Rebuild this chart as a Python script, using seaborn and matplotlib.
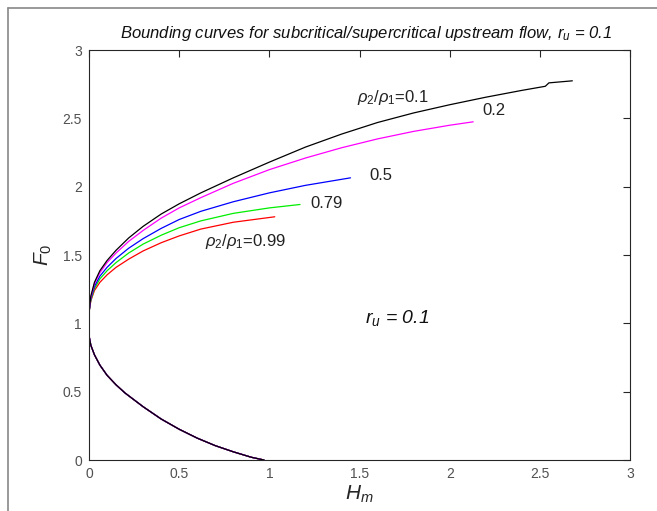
import matplotlib
matplotlib.use('Agg')
import matplotlib.pyplot as plt
import seaborn as sns
import pandas as pd
from matplotlib.lines import Line2D

# density ratios rho2/rho1 and their line colours
ratios = ['0.99', '0.79', '0.5', '0.2', '0.1']
colors = ['#ff0000', '#00ee00', '#0000ff', '#ff00ff', '#000000']

# upper (supercritical) branches
h_099 = [0, 0.01, 0.03, 0.06, 0.1, 0.15, 0.22, 0.3, 0.4, 0.5, 0.62, 0.8, 1.03]
f_099 = [1.08, 1.165, 1.24, 1.30, 1.355, 1.41, 1.47, 1.53, 1.59, 1.64, 1.69, 1.74, 1.78]
h_079 = [0, 0.01, 0.03, 0.06, 0.1, 0.15, 0.22, 0.3, 0.4, 0.5, 0.62, 0.8, 1.0, 1.17]
f_079 = [1.08, 1.17, 1.255, 1.325, 1.385, 1.445, 1.515, 1.58, 1.645, 1.70, 1.75, 1.805, 1.845, 1.87]
h_05 = [0, 0.01, 0.03, 0.06, 0.1, 0.15, 0.22, 0.3, 0.4, 0.5, 0.62, 0.8, 1.0, 1.2, 1.45]
f_05 = [1.08, 1.18, 1.27, 1.345, 1.41, 1.475, 1.55, 1.62, 1.695, 1.76, 1.82, 1.89, 1.955, 2.01, 2.065]
h_02 = [0, 0.01, 0.03, 0.06, 0.1, 0.15, 0.22, 0.3, 0.4, 0.5, 0.62, 0.8, 1.0, 1.2, 1.4, 1.6, 1.8, 2.0, 2.13]
f_02 = [1.08, 1.19, 1.29, 1.37, 1.445, 1.515, 1.60, 1.68, 1.77, 1.845, 1.92, 2.025, 2.125, 2.21, 2.285, 2.35, 2.405, 2.45, 2.475]
h_01 = [0, 0.01, 0.03, 0.06, 0.1, 0.15, 0.22, 0.3, 0.4, 0.5, 0.62, 0.8, 1.0, 1.2, 1.4, 1.6, 1.8, 2.0, 2.2, 2.4, 2.53, 2.55, 2.68]
f_01 = [1.08, 1.20, 1.30, 1.385, 1.46, 1.535, 1.625, 1.71, 1.80, 1.875, 1.955, 2.065, 2.18, 2.29, 2.385, 2.47, 2.54, 2.60, 2.655, 2.705, 2.735, 2.76, 2.775]

# lower (subcritical) branch - the same for all ratios
h_low = [0, 0.01, 0.03, 0.06, 0.1, 0.15, 0.2, 0.3, 0.4, 0.5, 0.6, 0.7, 0.8, 0.9, 0.97]
f_low = [0.91, 0.84, 0.77, 0.695, 0.62, 0.55, 0.49, 0.39, 0.30, 0.225, 0.16, 0.105, 0.06, 0.02, 0.0]

upper = {'0.99': (h_099, f_099), '0.79': (h_079, f_079), '0.5': (h_05, f_05),
         '0.2': (h_02, f_02), '0.1': (h_01, f_01)}

rows = []
for r in ratios:
    hu, fu = upper[r]
    for h, f in zip(hu, fu):
        rows.append({'ratio': r, 'branch': 'upper', 'H': h, 'F': f})
    for h, f in zip(h_low, f_low):
        rows.append({'ratio': r, 'branch': 'lower', 'H': h, 'F': f})
df = pd.DataFrame(rows)

sns.set_style('white')
plt.rcParams['font.family'] = ['Liberation Sans', 'DejaVu Sans']
plt.rcParams['mathtext.fontset'] = 'custom'
plt.rcParams['mathtext.rm'] = 'Liberation Sans'
plt.rcParams['mathtext.it'] = 'Liberation Sans:italic'

fig = plt.figure(figsize=(6.57, 5.11), dpi=100)
ax = fig.add_axes([0.1355, 0.0998, 0.8235, 0.8022])

sns.lineplot(data=df, x='H', y='F', hue='ratio', units='branch', estimator=None,
             sort=False, palette=dict(zip(ratios, colors)), hue_order=ratios,
             legend=False, linewidth=0.9, ax=ax)

ax.set_xlim(0, 3)
ax.set_ylim(0, 3)
ax.set_xticks([0, 0.5, 1, 1.5, 2, 2.5, 3])
ax.set_xticklabels(['0', '0.5', '1', '1.5', '2', '2.5', '3'])
ax.set_yticks([0, 0.5, 1, 1.5, 2, 2.5, 3])
ax.set_yticklabels(['0', '0.5', '1', '1.5', '2', '2.5', '3'])
ax.tick_params(direction='in', length=5, width=0.8, color='#262626', labelsize=10,
               labelcolor='#505050', top=True, right=True, pad=5)
for s in ax.spines.values():
    s.set_color('#262626')
    s.set_linewidth(0.8)

ax.set_xlabel(r'$H_m$', fontsize=15, color='#262626', labelpad=2)
ax.set_ylabel(r'$F_0$', fontsize=15, color='#262626', labelpad=6)
ax.set_title(r'Bounding curves for subcritical/supercritical upstream flow, $r_u$ = 0.1',
             fontsize=12, style='italic', color='#111111', pad=9, x=0.513)

# curve labels
ax.text(1.486, 2.65, r'$\rho_2/\rho_1$=0.1', fontsize=12, va='center', color='#222222')
ax.text(2.18, 2.56, '0.2', fontsize=12, va='center', color='#222222')
ax.text(1.553, 2.085, '0.5', fontsize=12, va='center', color='#222222')
ax.text(1.226, 1.88, '0.79', fontsize=12, va='center', color='#222222')
ax.text(0.643, 1.60, r'$\rho_2/\rho_1$=0.99', fontsize=12, va='center', color='#222222')
ax.text(1.53, 1.04, r'$r_u$ = 0.1', fontsize=14, style='italic', va='center', color='#111111')

# screenshot frame on the top and left edges
fig.add_artist(Line2D([8 / 657, 1], [1 - 8 / 511, 1 - 8 / 511], transform=fig.transFigure,
                      color='#888888', linewidth=1.2))
fig.add_artist(Line2D([8 / 657, 8 / 657], [0, 1 - 8 / 511], transform=fig.transFigure,
                      color='#888888', linewidth=1.2))

fig.savefig('out.png', dpi=100)
